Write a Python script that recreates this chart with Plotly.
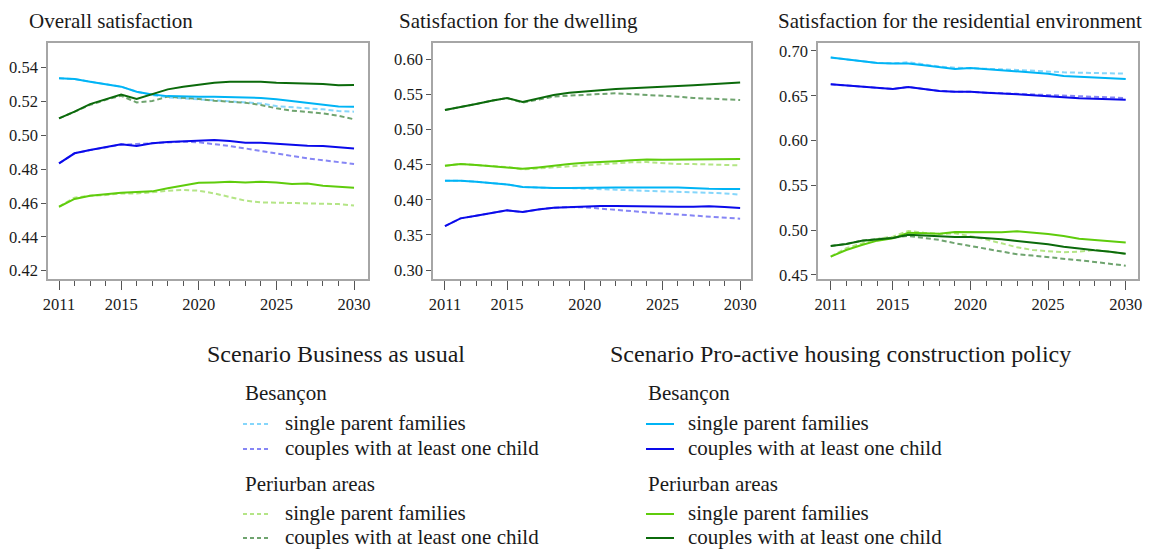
import plotly.graph_objects as go

# the page body adds an 8px margin, so the figure is drawn 8px smaller
OFF = 8
W, H = 1153 - OFF, 549 - OFF

years = list(range(2011, 2031))

# Overall satisfaction
overall_bau_bes_single = [0.5337, 0.5333, 0.5317, 0.5301, 0.5288, 0.5258, 0.5238, 0.5225, 0.5219, 0.5215,
                          0.5205, 0.5199, 0.5193, 0.5189, 0.5173, 0.5165, 0.5160, 0.5154, 0.5144, 0.5140]
overall_bau_bes_couple = [0.4834, 0.4894, 0.4913, 0.4930, 0.4945, 0.4949, 0.4955, 0.4961, 0.4963, 0.4959,
                          0.4949, 0.4937, 0.4923, 0.4907, 0.4890, 0.4878, 0.4864, 0.4854, 0.4844, 0.4831]
overall_bau_per_single = [0.4578, 0.4632, 0.4643, 0.4647, 0.4657, 0.4657, 0.4663, 0.4673, 0.4677, 0.4673,
                          0.4657, 0.4637, 0.4614, 0.4604, 0.4602, 0.4600, 0.4600, 0.4596, 0.4594, 0.4586]
overall_bau_per_couple = [0.5100, 0.5138, 0.5180, 0.5210, 0.5234, 0.5195, 0.5203, 0.5229, 0.5223, 0.5215,
                          0.5205, 0.5201, 0.5193, 0.5179, 0.5160, 0.5146, 0.5140, 0.5130, 0.5116, 0.5095]
overall_pro_bes_single = [0.5337, 0.5333, 0.5317, 0.5301, 0.5288, 0.5258, 0.5242, 0.5232, 0.5229, 0.5229,
                          0.5229, 0.5227, 0.5221, 0.5221, 0.5213, 0.5203, 0.5189, 0.5179, 0.5171, 0.5169]
overall_pro_bes_couple = [0.4834, 0.4894, 0.4913, 0.4929, 0.4947, 0.4937, 0.4953, 0.4961, 0.4966, 0.4970,
                          0.4972, 0.4966, 0.4957, 0.4957, 0.4951, 0.4941, 0.4939, 0.4937, 0.4929, 0.4923]
overall_pro_per_single = [0.4578, 0.4624, 0.4643, 0.4653, 0.4661, 0.4665, 0.4669, 0.4687, 0.4704, 0.4720,
                          0.4722, 0.4726, 0.4722, 0.4726, 0.4722, 0.4712, 0.4716, 0.4702, 0.4697, 0.4691]
overall_pro_per_couple = [0.5100, 0.5140, 0.5185, 0.5215, 0.5242, 0.5215, 0.5244, 0.5272, 0.5288, 0.5301,
                          0.5311, 0.5317, 0.5317, 0.5317, 0.5311, 0.5309, 0.5307, 0.5303, 0.5296, 0.5298]

# Satisfaction for the dwelling
dwell_bau_bes_single = [0.4272, 0.4272, 0.4257, 0.4238, 0.4219, 0.4181, 0.4172, 0.4167, 0.4167, 0.4162,
                        0.4153, 0.4143, 0.4134, 0.4129, 0.4124, 0.4115, 0.4105, 0.4100, 0.4091, 0.4072]
dwell_bau_bes_couple = [0.3626, 0.3735, 0.3773, 0.3816, 0.3849, 0.3825, 0.3863, 0.3887, 0.3896, 0.3892,
                        0.3877, 0.3858, 0.3839, 0.3820, 0.3806, 0.3792, 0.3778, 0.3768, 0.3754, 0.3730]
dwell_bau_per_single = [0.4485, 0.4509, 0.4495, 0.4476, 0.4466, 0.4433, 0.4447, 0.4466, 0.4480, 0.4495,
                        0.4509, 0.4518, 0.4533, 0.4537, 0.4518, 0.4509, 0.4509, 0.4500, 0.4490, 0.4490]
dwell_bau_per_couple = [0.5278, 0.5316, 0.5364, 0.5411, 0.5449, 0.5383, 0.5430, 0.5468, 0.5482, 0.5497,
                        0.5506, 0.5516, 0.5506, 0.5497, 0.5482, 0.5468, 0.5449, 0.5440, 0.5430, 0.5421]
dwell_pro_bes_single = [0.4272, 0.4272, 0.4257, 0.4238, 0.4219, 0.4181, 0.4172, 0.4167, 0.4167, 0.4172,
                        0.4176, 0.4176, 0.4176, 0.4181, 0.4176, 0.4176, 0.4162, 0.4157, 0.4153, 0.4153]
dwell_pro_bes_couple = [0.3626, 0.3735, 0.3773, 0.3816, 0.3849, 0.3825, 0.3863, 0.3887, 0.3896, 0.3901,
                        0.3911, 0.3911, 0.3906, 0.3906, 0.3906, 0.3901, 0.3901, 0.3906, 0.3896, 0.3882]
dwell_pro_per_single = [0.4485, 0.4509, 0.4495, 0.4476, 0.4466, 0.4442, 0.4461, 0.4490, 0.4509, 0.4528,
                        0.4533, 0.4547, 0.4561, 0.4575, 0.4571, 0.4571, 0.4580, 0.4571, 0.4575, 0.4580]
dwell_pro_per_couple = [0.5278, 0.5316, 0.5364, 0.5411, 0.5449, 0.5392, 0.5444, 0.5492, 0.5525, 0.5544,
                        0.5563, 0.5577, 0.5587, 0.5601, 0.5606, 0.5620, 0.5630, 0.5644, 0.5649, 0.5668]

# Satisfaction for the residential environment
env_bau_bes_single = [0.6926, 0.6907, 0.6888, 0.6866, 0.6862, 0.6874, 0.6851, 0.6825, 0.6814, 0.6810,
                      0.6803, 0.6795, 0.6788, 0.6777, 0.6769, 0.6762, 0.6758, 0.6754, 0.6751, 0.6747]
env_bau_bes_couple = [0.6628, 0.6617, 0.6606, 0.6591, 0.6576, 0.6598, 0.6580, 0.6554, 0.6546, 0.6546,
                      0.6535, 0.6528, 0.6524, 0.6516, 0.6505, 0.6498, 0.6490, 0.6483, 0.6479, 0.6475]
env_bau_per_single = [0.4705, 0.4798, 0.4853, 0.4902, 0.4928, 0.4991, 0.4972, 0.4958, 0.4965, 0.4935,
                      0.4898, 0.4853, 0.4809, 0.4779, 0.4764, 0.4753, 0.4760, 0.4779, 0.4760, 0.4734]
env_bau_per_couple = [0.4824, 0.4846, 0.4883, 0.4898, 0.4913, 0.4935, 0.4913, 0.4891, 0.4854, 0.4824,
                      0.4790, 0.4757, 0.4731, 0.4716, 0.4701, 0.4682, 0.4664, 0.4645, 0.4626, 0.4604]
env_pro_bes_single = [0.6926, 0.6907, 0.6888, 0.6866, 0.6859, 0.6859, 0.6840, 0.6818, 0.6799, 0.6810,
                      0.6799, 0.6788, 0.6777, 0.6766, 0.6747, 0.6721, 0.6710, 0.6702, 0.6695, 0.6688]
env_pro_bes_couple = [0.6628, 0.6617, 0.6606, 0.6591, 0.6576, 0.6598, 0.6580, 0.6554, 0.6546, 0.6546,
                      0.6535, 0.6528, 0.6516, 0.6505, 0.6494, 0.6475, 0.6472, 0.6468, 0.6464, 0.6457]
env_pro_per_single = [0.4705, 0.4779, 0.4835, 0.4883, 0.4909, 0.4972, 0.4965, 0.4961, 0.4980, 0.4980,
                      0.4976, 0.4976, 0.4987, 0.4976, 0.4958, 0.4935, 0.4905, 0.4891, 0.4876, 0.4861]
env_pro_per_couple = [0.4824, 0.4846, 0.4883, 0.4898, 0.4913, 0.4950, 0.4939, 0.4931, 0.4924, 0.4924,
                      0.4913, 0.4898, 0.4879, 0.4861, 0.4842, 0.4816, 0.4794, 0.4775, 0.4760, 0.4738]

panel_titles = ["Overall satisfaction", "Satisfaction for the dwelling",
                "Satisfaction for the residential environment"]
x_ticks = [2011, 2015, 2020, 2025, 2030]
y_ticks = [
    [0.42, 0.44, 0.46, 0.48, 0.50, 0.52, 0.54],
    [0.30, 0.35, 0.40, 0.45, 0.50, 0.55, 0.60],
    [0.45, 0.50, 0.55, 0.60, 0.65, 0.70],
]
group_labels = ["single parent families", "couples with at least one child"]

# colours: (BAU dashed, pro-active solid)
col_bes_single = ("#85d6fb", "#00b4f5")
col_bes_couple = ("#8686f5", "#0a0aea")
col_per_single = ("#b4e586", "#5fcc0c")
col_per_couple = ("#6fa46f", "#0b6a0b")

FONT = "Liberation Serif"
panels = [
    dict(bau=[overall_bau_bes_single, overall_bau_bes_couple, overall_bau_per_single, overall_bau_per_couple],
         pro=[overall_pro_bes_single, overall_pro_bes_couple, overall_pro_per_single, overall_pro_per_couple],
         px=(48, 368), xr=[2010.29, 2030.9], yr=[0.4151, 0.5546], title_x=27),
    dict(bau=[dwell_bau_bes_single, dwell_bau_bes_couple, dwell_bau_per_single, dwell_bau_per_couple],
         pro=[dwell_pro_bes_single, dwell_pro_bes_couple, dwell_pro_per_single, dwell_pro_per_couple],
         px=(433, 751), xr=[2010.23, 2030.7], yr=[0.2872, 0.6232], title_x=397),
    dict(bau=[env_bau_bes_single, env_bau_bes_couple, env_bau_per_single, env_bau_per_couple],
         pro=[env_pro_bes_single, env_pro_bes_couple, env_pro_per_single, env_pro_per_couple],
         px=(818, 1138), xr=[2010.18, 2030.79], yr=[0.4455, 0.7089], title_x=776),
]
colors = [col_bes_single, col_bes_couple, col_per_single, col_per_couple]


def fx(px):
    """screen x in pixels -> paper fraction"""
    return (px - OFF) / W


def fy(py):
    """screen y in pixels -> paper fraction"""
    return 1 - (py - OFF) / H


fig = go.Figure()
y_dom = [fy(279), fy(43)]

for i, p in enumerate(panels):
    xa = "x" if i == 0 else f"x{i + 1}"
    ya = "y" if i == 0 else f"y{i + 1}"
    for series, col in zip(p["bau"], colors):
        fig.add_trace(go.Scatter(x=years, y=series, mode="lines", xaxis=xa, yaxis=ya,
                                 line=dict(color=col[0], width=2, dash="5px,3px"),
                                 showlegend=False))
    for series, col in zip(p["pro"], colors):
        fig.add_trace(go.Scatter(x=years, y=series, mode="lines", xaxis=xa, yaxis=ya,
                                 line=dict(color=col[1], width=2), showlegend=False))
    suffix = "" if i == 0 else str(i + 1)
    fig.layout["xaxis" + suffix] = dict(
        domain=[fx(p["px"][0]), fx(p["px"][1])], anchor=ya, range=p["xr"],
        tickvals=x_ticks, ticks="outside", ticklen=9, tickcolor="#555555", tickwidth=1,
        minor=dict(tick0=2011, dtick=1, ticks="outside", ticklen=5, tickcolor="#555555"),
        showline=True, mirror=True, linecolor="#a6a6a6", linewidth=1.5,
        showgrid=False, zeroline=False, automargin=False,
        tickfont=dict(family=FONT, size=16.5, color="#1a1a1a"),
    )
    fig.layout["yaxis" + suffix] = dict(
        domain=y_dom, anchor=xa, range=p["yr"],
        tickvals=y_ticks[i], tickformat=".2f", ticks="outside", ticklen=5,
        tickcolor="#555555", tickwidth=1,
        showline=True, mirror=True, linecolor="#a6a6a6", linewidth=1.5,
        showgrid=False, zeroline=False, automargin=False,
        tickfont=dict(family=FONT, size=16.5, color="#1a1a1a"),
    )
    fig.add_annotation(text=panel_titles[i], x=fx(p["title_x"]), y=fy(21),
                       xref="paper", yref="paper", xanchor="left", yanchor="middle",
                       showarrow=False, font=dict(family=FONT, size=21, color="#1a1a1a"))


def note(text, x, y, size):
    fig.add_annotation(text=text, x=fx(x), y=fy(y), xref="paper", yref="paper",
                       xanchor="left", yanchor="middle", showarrow=False,
                       font=dict(family=FONT, size=size, color="#1a1a1a"))


def sample(x0, x1, y, color, dash):
    fig.add_shape(type="line", xref="paper", yref="paper", x0=fx(x0), x1=fx(x1),
                  y0=fy(y), y1=fy(y), line=dict(color=color, width=2, dash=dash))


# legend block, drawn by hand
for col_x, head, k, dash in [(205, "Scenario Business as usual", 0, "4px,3px"),
                             (608, "Scenario Pro-active housing construction policy", 1, "solid")]:
    note(head, col_x, 354, 24)
    gx = col_x + 38
    note("Besançon", gx, 393, 21)
    note("Periurban areas", gx, 484, 21)
    rows = [(423, colors[0]), (448, colors[1]), (513, colors[2]), (537, colors[3])]
    for j, (ry, col) in enumerate(rows):
        sample(gx, gx + 28, ry + 1, col[k], dash)
        note(group_labels[j % 2], gx + 40, ry, 21)

fig.update_layout(width=W, height=H, margin=dict(l=0, r=0, t=0, b=0),
                  plot_bgcolor="white", paper_bgcolor="white", showlegend=False)

fig.write_html("out.html")
